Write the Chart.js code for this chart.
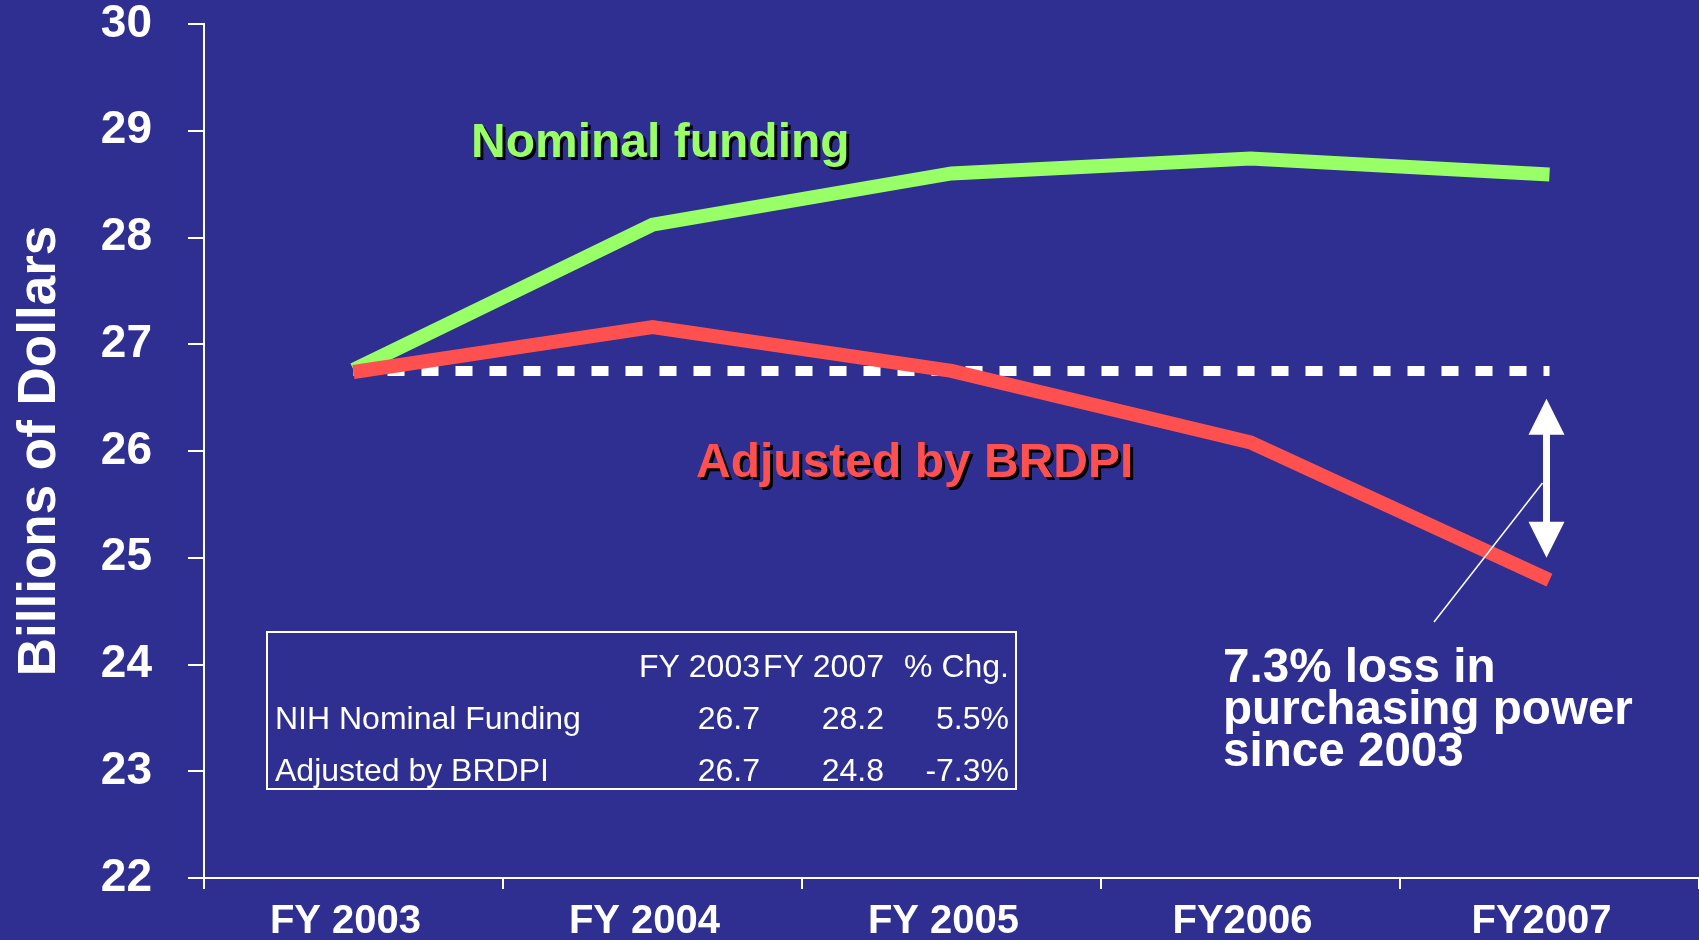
<!DOCTYPE html>
<html>
<head>
<meta charset="utf-8">
<script src="https://cdn.jsdelivr.net/npm/chart.js@4.4.0/dist/chart.umd.min.js"></script>
<style>
  html, body { margin: 0; padding: 0; background: #2E2F90; }
  canvas { display: block; }
</style>
</head>
<body>
<canvas id="nihChart" width="1699" height="940"></canvas>
<script>
// datos
const years = ['FY 2003', 'FY 2004', 'FY 2005', 'FY2006', 'FY2007'];
const nominal = [26.76, 28.12, 28.6, 28.74, 28.59];
const adjusted = [26.74, 27.16, 26.75, 26.08, 24.79];
const baseline2003 = [26.75, 26.75, 26.75, 26.75, 26.75];
const lossArrow = [26.49, 25.0]; // extremos de la flecha (valores)
const yTicks = [22, 23, 24, 25, 26, 27, 28, 29, 30];

// tabla resumen
const tableHeader = ['FY 2003', 'FY 2007', '% Chg.'];
const tableRows = [
  ['NIH Nominal Funding', '26.7', '28.2', '5.5%'],
  ['Adjusted by BRDPI', '26.7', '24.8', '-7.3%']
];
const lossText = ['7.3% loss in', 'purchasing power', 'since 2003'];

const BG = '#2E2F90';
const GREEN = '#99FF66';
const RED = '#FF5050';
const FONT = "'Liberation Sans', Arial, sans-serif";

const annotations = {
  id: 'annotations',
  beforeDraw(chart) {
    const ctx = chart.ctx;
    ctx.save();
    ctx.fillStyle = BG;
    ctx.fillRect(0, 0, chart.width, chart.height);
    ctx.restore();
  },
  afterDatasetsDraw(chart) {
    const ctx = chart.ctx;
    const xs = chart.scales.x;
    const ys = chart.scales.y;

    // textos de series con sombra
    ctx.save();
    ctx.font = 'bold 48px ' + FONT;
    ctx.textBaseline = 'alphabetic';
    ctx.shadowColor = '#000000';
    ctx.shadowOffsetX = 3;
    ctx.shadowOffsetY = 3;
    ctx.shadowBlur = 0;
    ctx.fillStyle = GREEN;
    ctx.fillText('Nominal funding', 471, 157);
    ctx.fillStyle = RED;
    ctx.fillText('Adjusted by BRDPI', 696, 477);
    ctx.restore();

    // flecha doble
    const ax = xs.getPixelForValue(4) - 3;
    const yTop = ys.getPixelForValue(lossArrow[0]);
    const yBot = ys.getPixelForValue(lossArrow[1]);
    const head = 36, half = 18;
    ctx.save();
    ctx.fillStyle = '#ffffff';
    ctx.strokeStyle = '#ffffff';
    ctx.lineWidth = 7;
    ctx.beginPath();
    ctx.moveTo(ax, yTop + head - 2);
    ctx.lineTo(ax, yBot - head + 2);
    ctx.stroke();
    ctx.beginPath();
    ctx.moveTo(ax, yTop);
    ctx.lineTo(ax + half, yTop + head);
    ctx.lineTo(ax - half, yTop + head);
    ctx.closePath();
    ctx.fill();
    ctx.beginPath();
    ctx.moveTo(ax, yBot);
    ctx.lineTo(ax + half, yBot - head);
    ctx.lineTo(ax - half, yBot - head);
    ctx.closePath();
    ctx.fill();

    // linea guia
    ctx.lineWidth = 1.5;
    ctx.beginPath();
    ctx.moveTo(ax - 4, 483);
    ctx.lineTo(1434, 622);
    ctx.stroke();

    // texto de perdida
    ctx.font = 'bold 47.6px ' + FONT;
    ctx.textAlign = 'left';
    ctx.textBaseline = 'alphabetic';
    lossText.forEach((t, i) => ctx.fillText(t, 1223, 682 + i * 42));

    // tabla
    ctx.lineWidth = 2;
    ctx.strokeRect(267, 632, 749, 157);
    ctx.font = '32px ' + FONT;
    const colRight = [760, 884, 1009];
    ctx.textAlign = 'right';
    tableHeader.forEach((h, i) => ctx.fillText(h, colRight[i], 677));
    tableRows.forEach((row, r) => {
      const yb = 729 + r * 52;
      ctx.textAlign = 'left';
      ctx.fillText(row[0], 275, yb);
      ctx.textAlign = 'right';
      for (let c = 1; c < row.length; c++) ctx.fillText(row[c], colRight[c - 1], yb);
    });
    ctx.restore();
  }
};

const ctx = document.getElementById('nihChart').getContext('2d');
const chart = new Chart(ctx, {
  type: 'line',
  data: {
    labels: years,
    datasets: [
      {
        label: 'Adjusted by BRDPI',
        data: adjusted,
        borderColor: RED,
        borderWidth: 14,
        borderCapStyle: 'butt',
        borderJoinStyle: 'miter',
        pointRadius: 0,
        tension: 0,
        order: 1
      },
      {
        label: 'Nominal funding',
        data: nominal,
        borderColor: GREEN,
        borderWidth: 14,
        borderCapStyle: 'butt',
        borderJoinStyle: 'miter',
        pointRadius: 0,
        tension: 0,
        order: 2
      },
      {
        label: 'FY 2003 level',
        data: baseline2003,
        borderColor: '#ffffff',
        borderWidth: 10,
        borderDash: [17, 17],
        borderCapStyle: 'butt',
        pointRadius: 0,
        order: 3
      }
    ]
  },
  options: {
    responsive: false,
    devicePixelRatio: 1,
    animation: false,
    layout: { padding: { top: 24, right: 0, left: 0, bottom: 0 } },
    plugins: {
      legend: { display: false },
      tooltip: { enabled: false }
    },
    scales: {
      x: {
        offset: true,
        grid: {
          offset: true,
          drawOnChartArea: false,
          drawTicks: true,
          tickLength: 11,
          color: '#ffffff',
          lineWidth: 2
        },
        border: { display: true, color: '#ffffff', width: 2 },
        ticks: {
          color: '#ffffff',
          font: { family: FONT, size: 40, weight: 'bold' },
          padding: 9,
          labelOffset: -8,
          maxRotation: 0,
          autoSkip: false
        },
        afterFit(scale) {
          scale.height = 62;
          scale.paddingLeft = 0;
          scale.paddingRight = 0;
        }
      },
      y: {
        min: 22,
        max: 30,
        afterBuildTicks(scale) {
          scale.ticks = yTicks.map(v => ({ value: v }));
        },
        grid: {
          drawOnChartArea: false,
          drawTicks: true,
          tickLength: 16,
          color: '#ffffff',
          lineWidth: 2
        },
        border: { display: true, color: '#ffffff', width: 2 },
        ticks: {
          color: '#ffffff',
          font: { family: FONT, size: 46, weight: 'bold' },
          padding: 36
        },
        title: {
          display: true,
          text: 'Billions of Dollars',
          color: '#ffffff',
          font: { family: FONT, size: 53, weight: 'bold' },
          padding: { top: 9, bottom: 4 }
        },
        afterFit(scale) {
          scale.width = 204;
          scale.paddingTop = 0;
          scale.paddingBottom = 0;
        }
      }
    }
  },
  plugins: [annotations]
});
</script>
</body>
</html>
